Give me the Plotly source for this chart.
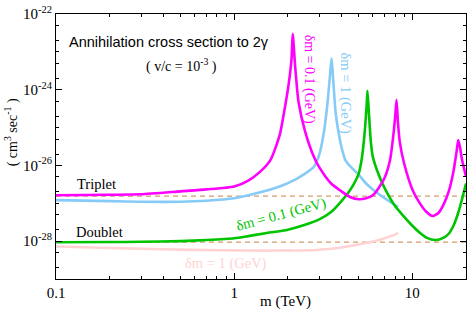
import plotly.graph_objects as go

# ---------------- data ----------------
# Triplet, delta m = 0.1 GeV (magenta)
trip01_m = [0.1, 0.2, 0.3, 0.5, 0.7, 1.0, 1.2, 1.4, 1.6, 1.8, 1.9, 2.0, 2.05, 2.1, 2.13,
            2.2, 2.3, 2.5, 2.8, 3.0, 3.5, 4.0, 4.5, 5.0, 5.5, 6.0, 6.5, 7.0, 7.5, 7.8,
            8.0, 8.15, 8.3, 8.5, 9.0, 10, 11, 12, 13, 14, 15, 16, 17, 17.7, 18.1, 18.5, 19, 20]
trip01_s = [1.63e-27, 1.68e-27, 1.73e-27, 2.07e-27, 2.33e-27, 2.79e-27, 4.00e-27, 6.87e-27,
            1.41e-26, 6.30e-26, 2.35e-25, 9.9e-25, 2.30e-24, 6.75e-24, 3.02e-23,
            4.0e-24, 4.6e-25, 8.0e-26, 1.7e-26, 9.0e-27, 3.34e-27, 2.07e-27, 1.45e-27,
            1.28e-27, 1.36e-27, 1.63e-27, 2.63e-27, 4.79e-27, 1.41e-26, 5.58e-26,
            1.85e-25, 5.44e-25, 1.37e-25, 4.14e-26, 1.11e-26, 2.33e-27, 1.01e-27, 5.89e-28,
            4.63e-28, 5.55e-28, 9.51e-28, 2.07e-27, 6.87e-27, 2.28e-26, 4.67e-26, 3.07e-26,
            1.41e-26, 5.08e-27]

# Triplet, delta m = 1 GeV (light blue)
trip1_m = [0.1, 0.2, 0.3, 0.5, 0.7, 1.0, 1.4, 1.8, 2.2, 2.5, 2.8, 3.0, 3.2, 3.35, 3.45, 3.52,
           3.6, 3.7, 3.85, 4.0, 4.2, 4.5, 5.0, 5.5, 6.0, 7.0, 8.0, 8.3]
trip1_s = [1.21e-27, 1.14e-27, 1.10e-27, 1.10e-27, 1.17e-27, 1.36e-27, 1.95e-27, 2.79e-27,
           4.25e-27, 6.09e-27, 9.25e-27, 1.90e-26, 8.49e-26, 5.13e-25, 2.44e-24, 6.75e-24,
           1.70e-24, 2.82e-25, 7.53e-26, 3.07e-26, 1.41e-26, 9.25e-27, 5.74e-27, 3.34e-27,
           2.33e-27, 1.36e-27, 8.95e-28, 7.94e-28]

# Doublet, delta m = 0.1 GeV (green)
doub01_m = [0.1, 0.2, 0.3, 0.5, 0.7, 1.0, 1.2, 1.5, 2.0, 2.5, 3.0, 3.5, 4.0, 4.5, 5.0, 5.2,
            5.4, 5.55, 5.6, 5.7, 5.85, 6.0, 6.5, 7.0, 8.0, 9.0, 10, 11, 12, 13.5, 15, 16,
            17, 18, 19, 20]
doub01_s = [9.35e-29, 9.46e-29, 9.64e-29, 1.00e-28, 1.07e-28, 1.19e-28, 1.36e-28, 1.62e-28,
            2.00e-28, 2.70e-28, 3.76e-28, 5.89e-28, 1.14e-27, 2.33e-27, 6.09e-27, 1.50e-26,
            7.53e-26, 4.55e-25, 9.33e-25, 2.50e-25, 4.14e-26, 1.69e-26, 5.41e-27, 2.48e-27,
            8.43e-28, 4.37e-28, 2.55e-28, 1.67e-28, 1.24e-28, 1.07e-28, 1.24e-28, 1.57e-28,
            2.55e-28, 5.22e-28, 1.28e-27, 3.34e-27]

# Doublet, delta m = 1 GeV (light pink)
doub1_m = [0.1, 0.2, 0.3, 0.5, 0.7, 1.0, 1.5, 2.0, 2.5, 3.0, 4.0, 5.0, 6.0, 7.0, 8.0, 8.3]
doub1_s = [7.23e-29, 6.61e-29, 6.30e-29, 5.97e-29, 5.82e-29, 5.69e-29, 5.62e-29, 5.69e-29,
           5.69e-29, 5.93e-29, 6.81e-29, 8.15e-29, 9.75e-29, 1.20e-28, 1.48e-28, 1.67e-28]

# dashed reference levels
ref_m = [0.1, 20]
ref_triplet = [1.55e-27, 1.55e-27]
ref_doublet = [9.4e-29, 9.4e-29]

# tick labels
x_tickvals = [0.1, 1, 10]
x_ticktext = ["0.1", "1", "10"]
y_tickvals = [1e-28, 1e-26, 1e-24, 1e-22]
y_ticktext = ["10<sup>-28</sup>", "10<sup>-26</sup>", "10<sup>-24</sup>", "10<sup>-22</sup>"]

# ---------------- figure ----------------
W, H = 471, 311
ML, MR, MT, MB = 56, 4, 10, 32
PW, PH = W - ML - MR, H - MT - MB

def px(x):
    return (x - ML) / PW

def py(y):
    return (H - MB - y) / PH

SERIF = "Liberation Serif"
SANS = "Liberation Sans"

fig = go.Figure()
dash_col = "#D49A6A"
for ys in (ref_triplet, ref_doublet):
    fig.add_trace(go.Scatter(x=ref_m, y=ys, mode="lines",
                             line=dict(color=dash_col, width=1.1, dash="5px,4px"),
                             hoverinfo="skip", showlegend=False))

series = [
    (doub1_m, doub1_s, "#FFD3D3"),
    (trip1_m, trip1_s, "#86CBF7"),
    (doub01_m, doub01_s, "#00C400"),
    (trip01_m, trip01_s, "#FF00FF"),
]
for xs, ys, col in series:
    fig.add_trace(go.Scatter(x=xs, y=ys, mode="lines",
                             line=dict(color=col, width=2.6, shape="spline", smoothing=0.6),
                             hoverinfo="skip", showlegend=False))

ann = []
def add(text, x, y, size=14.5, color="black", family=SERIF, angle=0, xanchor="center"):
    ann.append(dict(text=text, x=px(x), y=py(y), xref="paper", yref="paper",
                    showarrow=False, textangle=angle, xanchor=xanchor, yanchor="middle",
                    font=dict(family=family, size=size, color=color)))

add("Annihilation cross section to 2γ", 67, 38, size=14.5, family=SANS, xanchor="left")
add("( v/c = 10<sup>-3</sup> )", 144, 62, size=14, xanchor="left")
add("Triplet", 75, 183, size=14.5, xanchor="left")
add("Doublet", 74, 231, size=14.5, xanchor="left")
add("δm = 0.1 (GeV)", 310, 76, size=14, color="#FF00FF", angle=90)
add("δm = 1 (GeV)", 346, 91, size=14.5, color="#86CBF7", angle=90)
add("δm = 0.1 (GeV)", 282, 214, size=14.5, color="#00C400", angle=-15)
add("δm = 1 (GeV)", 226, 263, size=14.5, color="#FFD3D3")
add("( cm<sup>3</sup> sec<sup>-1</sup> )", 11, 130, size=14, angle=-90)
add("m (TeV)", 286, 302, size=15)

axis_common = dict(showline=True, linecolor="black", linewidth=1, mirror="allticks",
                   ticks="inside", tickcolor="black", showgrid=False, zeroline=False,
                   tickfont=dict(family=SERIF, size=15, color="black"))

fig.update_layout(
    width=W, height=H,
    margin=dict(l=ML, r=MR, t=MT, b=MB, pad=0),
    paper_bgcolor="white", plot_bgcolor="white",
    showlegend=False,
    annotations=ann,
    xaxis=dict(type="log", range=[-1, 1.30103], tickmode="array",
               tickvals=x_tickvals, ticktext=x_ticktext, ticklen=6, tickwidth=1,
               minor=dict(ticks="inside", ticklen=3, tickcolor="black", dtick="D1",
                          showgrid=False),
               **axis_common),
    yaxis=dict(type="log", range=[-29, -21.998], tickmode="array",
               tickvals=y_tickvals, ticktext=y_ticktext, ticklen=6, tickwidth=1,
               ticklabelstandoff=0,
               minor=dict(ticks="inside", ticklen=3, tickcolor="black", dtick="D2",
                          showgrid=False),
               **axis_common),
)

fig.write_html("out.html", config={"displayModeBar": False, "staticPlot": True},
               post_script="document.body.style.margin='0';document.body.style.overflow='hidden';")
